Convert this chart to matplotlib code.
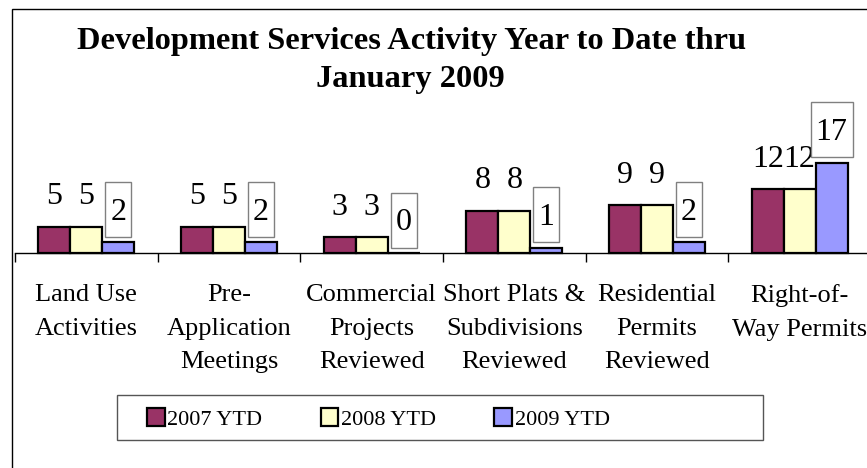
import matplotlib
matplotlib.use("Agg")
import matplotlib.pyplot as plt
import numpy as np
from matplotlib.path import Path
from matplotlib.patches import Patch, Rectangle

categories = ["Land Use\nActivities", "Pre-\nApplication\nMeetings",
              "Commercial\nProjects\nReviewed", "Short Plats &\nSubdivisions\nReviewed",
              "Residential\nPermits\nReviewed", "Right-of-\nWay Permits"]
series_names = ["2007 YTD", "2008 YTD", "2009 YTD"]
ytd_2007 = [5, 5, 3, 8, 9, 12]
ytd_2008 = [5, 5, 3, 8, 9, 12]
ytd_2009 = [2, 2, 0, 1, 2, 17]
title_line1 = "Development Services Activity Year to Date thru"
title_line2 = "January 2009"

colors = ["#993366", "#FFFFCC", "#9999FF"]
serif = ["Liberation Serif", "DejaVu Serif"]
plt.rcParams["font.family"] = serif

W, H = 867, 468
fig = plt.figure(figsize=(W / 100, H / 100), dpi=100)

# outer chart border (left & top visible)
fig.add_artist(Rectangle((12 / W, -0.5), 2.0, 1.5 - 9 / H, transform=fig.transFigure,
                         fill=False, edgecolor="black", lw=1.0))

px_per_unit = 5.3
ymax = 20
ax = fig.add_axes([15 / W, (H - 253) / H, 856 / W, ymax * px_per_unit / H])
ax.set_xlim(-0.5, len(categories) - 0.5)
ax.set_ylim(0, ymax)

x = np.arange(len(categories))
bw = 0.224
all_series = [ytd_2007, ytd_2008, ytd_2009]


def label_box(x0, y0, width, height, mutation_size):
    padx = 5.0
    base = y0 + 0.216 * mutation_size
    bottom = base - 17.0
    top = base + 38.0
    verts = [(x0 - padx, bottom), (x0 + width + padx, bottom),
             (x0 + width + padx, top), (x0 - padx, top), (x0 - padx, bottom)]
    return Path(verts, closed=True)


for i, (vals, col) in enumerate(zip(all_series, colors)):
    xs = x + (i - 1) * bw
    ax.bar(xs, vals, width=bw, color=col, edgecolor="black", linewidth=1.6,
           clip_on=False, zorder=3)
    for xx, v in zip(xs, vals):
        kw = {}
        if i == 2:
            kw["bbox"] = dict(boxstyle=label_box, facecolor="white",
                              edgecolor="#808080", linewidth=1.0)
        ax.annotate(str(v), xy=(xx, v), xytext=(0, 16.2), textcoords="offset points",
                    ha="center", va="baseline", fontsize=23, color="black",
                    annotation_clip=False, zorder=4, **kw)

for s in ["top", "right", "left"]:
    ax.spines[s].set_visible(False)
ax.spines["bottom"].set_linewidth(1.0)
ax.set_yticks([])
ax.set_xticks(x)
ax.set_xticklabels(categories, fontsize=19, linespacing=1.68, ha="center")
ax.tick_params(axis="x", which="major", length=0, pad=22.3)
ax.set_xticks(np.arange(-0.5, len(categories), 1.0), minor=True)
ax.tick_params(axis="x", which="minor", length=6.5, width=1.0, direction="out", color="black")

fig.text(412 / W, 1 - 49 / H, title_line1,
         ha="center", va="baseline", fontsize=23.3, fontweight="bold")
fig.text(410 / W, 1 - 87.5 / H, title_line2,
         ha="center", va="baseline", fontsize=23.3, fontweight="bold")

# legend (Excel-style frame wider than its entries)
fig.add_artist(Rectangle((117 / W, 1 - 440 / H), (763 - 117) / W, 45 / H,
                         transform=fig.transFigure, facecolor="white",
                         edgecolor="#555555", lw=1.0, zorder=1))
handles = [Patch(facecolor=c, edgecolor="black", linewidth=1.6) for c in colors]
leg = fig.legend(handles, series_names, loc="center left", ncol=3,
                 bbox_to_anchor=(147 / W, 1 - 419 / H), fontsize=16,
                 handlelength=0.8, handleheight=0.85, handletextpad=0.12,
                 columnspacing=2.62, borderpad=0.0, borderaxespad=0.0,
                 frameon=False)
leg.set_zorder(2)

fig.savefig("out.png", dpi=100)
